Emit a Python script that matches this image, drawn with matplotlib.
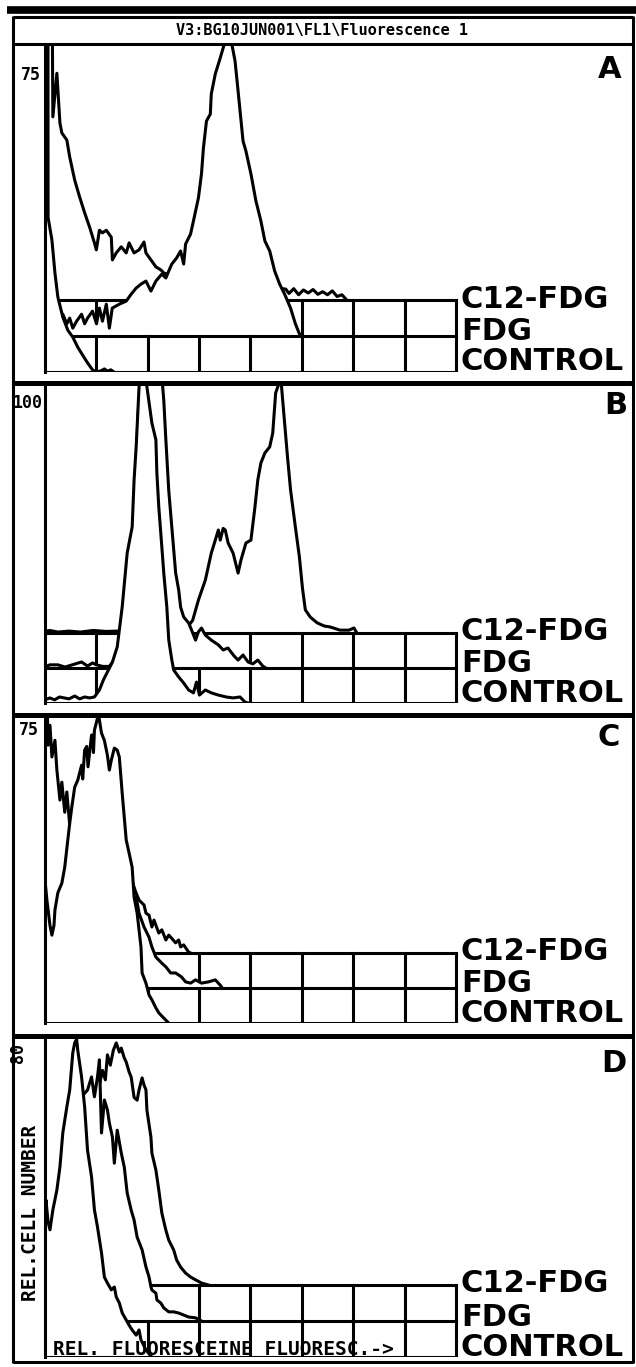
import matplotlib
matplotlib.use("Agg")
import matplotlib.pyplot as plt
from matplotlib.lines import Line2D

# Texto do painel
TITLE = r"V3:BG10JUN001\FL1\Fluorescence 1"
SERIES = ["C12-FDG", "FDG", "CONTROL"]
PANEL_LETTERS = ["A", "B", "C", "D"]
Y_MAX = [75, 100, 75, 80]
Y_MAX_LABELS = ["75", "100", "75", "80"]
GRID_CHANNELS = [32, 64, 96, 128, 160, 192, 224, 256]
Y_LABEL = "REL.CELL NUMBER"
X_LABEL = "REL. FLUORESCEINE FLUORESC.->"

# Histogramas (canal 0-256, contagem)
A_C12_CH = [0, 1.5, 2, 4.3, 4.9, 7.4, 9.3, 10.5, 13.6, 15.4, 18.5, 21.6, 24.7, 27.8, 30.8, 32, 33.9,
            35.8, 38.2, 41.3, 42, 44.4, 47.5, 50.6, 52.4, 55.5, 58.6, 61.7, 62.9, 66, 69.1, 72.2, 74,
            85, 100, 120, 140, 150, 152, 155, 158, 161, 164, 167, 170, 173, 176, 179, 182, 185, 188]
A_C12_N = [0, 0, 90, 80, 42, 52, 40.6, 38.3, 36.7, 32.8, 27.5, 23.6, 20, 16.7, 13.1, 11.5, 16,
           15.4, 16, 14.4, 9.2, 10.8, 12.2, 10.8, 13.1, 10.8, 11.5, 13.3, 10.8, 9.2, 7.6, 6.9, 6.2,
           5, 4, 3.5, 3, 2.5, 1.5, 2.6, 1.2, 2.3, 1.6, 2.4, 1.3, 1.9, 1.2, 2.1, 0.8, 1.2, 0]
A_FDG_CH = [0, 2, 5, 8, 9.3, 11.1, 13.6, 15.4, 17.3, 19.7, 22.8, 24.7, 26.5, 29.6, 32.1, 33.9, 35.8,
            38.2, 40.1, 41.9, 46.3, 50.6, 53.7, 56.8, 59.8, 62.9, 66, 69.1, 72.8, 75.3, 77.1, 79, 82,
            84.5, 86.4, 87.6, 90.7, 92.5, 95.6, 97.5, 98.7, 100.6, 103, 103.6, 106.1, 109.2, 112.3,
            114, 116, 118.4, 120.3, 123.4, 125.2, 128.3, 131.4, 134.5, 137, 140, 143.1, 146.2,
            149.3, 153, 156, 158.5, 160.4]
A_FDG_N = [0, 20, 15, 8, 3.4, 5, 2.8, 4.1, 1.8, 3.4, 5, 2.8, 4.1, 5.7, 2.8, 6.4, 3.4,
           7.3, 1.8, 6.4, 7.3, 8, 9.6, 11, 11.9, 12.6, 10.3, 12.6, 14.2, 13.3, 14.9, 16.5, 17.9,
           19.5, 16.5, 21.1, 23.4, 26.4, 31.7, 37.2, 43.1, 49.3, 50.9, 55.5, 60.1, 63.8, 67.7,
           70, 67.7, 63.1, 56.2, 44.7, 42.4, 37.2, 31, 26.4, 21.8, 19.5, 14.9, 11.9,
           9.6, 6.4, 2.8, 0.5, 0]
A_CTRL_CH = [0, 1.5, 1.9, 4.3, 6.2, 8.0, 11.1, 14.2, 17.3, 20.4, 23.4, 26.5, 29.6, 32, 35, 37, 39,
             41, 43]
A_CTRL_N = [95, 95, 35.5, 30.3, 22.7, 17.2, 12.6, 9.6, 8.0, 5.7, 3.9, 2.1, 0.5, 0, 0.3, 0.7, 0.2,
            0.5, 0]

B_C12_CH = [0, 3, 8, 15, 22, 30, 38, 45, 55, 65, 75, 85, 89, 92, 95.6, 99.9, 103.6, 106.1, 108,
            109.2, 111, 112.3, 114.1, 117.2, 120.3, 122.1, 125.2, 128.3, 130.8, 132.6, 134.5, 137,
            140, 141.9, 143.7, 145, 146.2, 147.4, 149.3, 151.1, 153, 156, 158.5, 160.4, 162.2,
            165.3, 169.6, 174, 177.7, 183.8, 189.4, 192.5, 194.3]
B_C12_N = [0.5, 0.8, 0.3, 0.6, 0.3, 0.8, 0.5, 0.6, 1, 1.5, 2, 1.5, 2, 4, 10.4, 16.7, 25.2, 29.3,
           32.5, 29.3, 33, 32.5, 28.4, 25.2, 18.9, 23, 28.4, 29.3, 39.7, 48.3, 53.6, 56.8, 58.7,
           63.1, 75.7, 77.6, 80, 77.6, 66.2, 55.5, 45.1, 33.4, 24, 14.2, 7.3, 5, 3.2, 2.2, 1.9,
           0.9, 0.9, 1.6, 0]
B_FDG_CH = [0, 3, 8, 12.5, 17, 22.8, 26.5, 29.6, 32, 36, 40, 44, 46, 48, 51, 54, 56, 58, 60, 66,
            72.8, 74, 75.3, 77.1, 79, 81.4, 83.3, 84.5, 86.4, 89.5, 91.3, 93.8, 95.6, 97.5, 99.9,
            103.6, 108, 111, 114, 117.8, 120.3, 123.4, 126.5, 129.5, 132.6, 135.7, 137.6]
B_FDG_N = [0.3, 1, 1, 0.3, 1, 1.9, 0.6, 1.6, 1, 0.5, 0.5, 3, 7, 14, 28, 38, 55, 80, 95, 110,
           92, 84.5, 72, 56, 44.5, 30, 24.6, 19.2, 16.1, 14.2, 12, 8.8, 11.4, 12.6, 10.4,
           8.8, 7.3, 5.7, 6.3, 3.8, 2.5, 4.1, 1.9, 1.3, 2.5, 0.6, 0]
B_CTRL_CH = [0, 3, 6, 9, 15, 18.5, 21.6, 24.7, 27.8, 30.8, 33.9, 36.4, 38.9, 42, 45, 48.1, 51.2,
             54.3, 55.5, 56.8, 58.6, 61, 63.5, 66.6, 69.1, 69.7, 70.9, 72.8, 74, 75.9, 77.1, 79,
             80.2, 83.3, 86.4, 89.5, 92.5, 94.4, 96.2, 99.9, 103.6, 108, 112.9, 117.2, 121.5,
             124.6, 126.5]
B_CTRL_N = [1, 1.6, 1, 1.9, 1.3, 2.2, 1.3, 1.9, 1.6, 1.9, 4.1, 7.3, 9.8, 12.9, 17.7, 30.3, 47.3,
            55.5, 70.3, 80.8, 99.7, 105, 99.7, 88.3, 83, 72.6, 61.8, 49.2, 41, 30.3, 19.9, 13.6,
            10.4, 8.2, 6.3, 4.1, 3.2, 6.6, 2.5, 4.1, 3.2, 2.5, 1.9, 1.6, 1.9, 0.3, 0]

C_C12_CH = [0, 1.2, 1.9, 3.1, 4.3, 6.2, 7.4, 9.3, 10.5, 12.3, 13.6, 15.4, 17.3, 20, 25, 30, 35, 40,
            45, 50, 54, 56.5, 58.6, 61.7, 62.9, 64.8, 66.6, 67.9, 70.9, 72.8, 75.3, 77.1, 78.3,
            81.4, 83.3, 84.5, 86.4, 89.5, 90.7]
C_C12_N = [70, 65, 51.1, 56, 48.2, 52.3, 45, 37.6, 42, 34.6, 39.6, 31.4, 32.7, 33, 38, 42, 45, 42,
           36, 26, 18, 15, 13, 11.8, 9.8, 9.3, 6.4, 8.1, 4.9, 5.7, 3.2, 4.4, 3.9, 2.5, 3.2, 1.5,
           2, 0.2, 0]
C_FDG_CH = [0, 4, 10, 15, 20, 30, 40, 48, 52, 55, 56.8, 58.6, 61.7, 64.8, 66.6, 69.1, 72.8, 75.3,
            78.3, 81.4, 85.1, 87.6, 90.7, 93.8, 97.5, 101.8, 106.1, 109.2, 110.4]
C_FDG_N = [10, 12, 22, 35, 45, 55, 50, 40, 30, 22, 22.4, 18.4, 15, 12.5, 10.1, 7.6, 6.1, 5.2,
           3.7, 3.7, 2.7, 1.5, 1.2, 2, 1.2, 1.5, 2, 0.7, 0]
C_CTRL_CH = [0, 1.2, 3.1, 4.3, 5.6, 6.2, 8, 10.5, 12.3, 14.2, 15.4, 16.7, 18.5, 20.4, 22.8, 23.5,
             24.7, 26, 26.8, 29, 29.6, 30.2, 30.8, 32.1, 33.3, 35.2, 37, 38.9, 40.1, 41.3, 43.2, 45,
             46.3, 48.1, 50.6, 52.4, 54.3, 55.5, 57.4, 59.8, 60.5, 62.9, 64.8, 66.6, 69.1, 70.9,
             72.8, 75.3, 77.1]
C_CTRL_N = [35.1, 30.2, 24, 21.6, 24, 27.8, 32, 34.4, 38.3, 45, 49.1, 53.1, 58, 59.7, 63.4, 60,
            67.1, 68, 63, 70.8, 70.8, 66.5, 72, 74, 76, 71.3, 69.5, 65.8, 62.2, 64.6, 67.6, 67.1,
            65.4, 56.5, 45, 41.8, 38.3, 31, 27, 18.7, 12.3, 9.8, 6.9, 5.7, 3.7, 2.5,
            1.7, 0.7, 0]

D_C12_CH = [0, 10, 20, 26, 30, 33.9, 35.8, 37.6, 38.9, 40.7, 42.6, 44.4, 46.3, 47.5, 49.4, 50.6,
            52.4, 53.7, 55.5, 57.4, 58.6, 60.5, 61.7, 62.9, 63.5, 66, 66.6, 69.1, 70.9, 72.8, 75.3,
            77.1, 80.2, 82, 84.5, 87.6, 90.7, 93.8, 97.5, 101.8]
D_C12_N = [3, 15, 35, 45, 44, 50.3, 54, 51.6, 57.9, 55.3, 59.1, 60.9, 58.6, 59.6, 57.1, 56.1,
           53.6, 52.3, 47.2, 46.5, 49.1, 52.1, 50.3, 49.1, 44, 37.2, 33.2, 28.9, 23.9, 18.1, 13.8,
           11.3, 8.8, 6.3, 4.5, 3, 2, 1.3, 0.5, 0]
D_FDG_CH = [0, 5, 10, 15, 20, 24, 26.5, 29, 30.8, 32.7, 33.9, 35.2, 37, 38.9, 40.1, 42, 43.2, 45,
            47.5, 49.4, 51.2, 53.7, 55.5, 57.4, 60.5, 62.9, 64.8, 66, 66.6, 69.1, 69.7, 72.2, 74,
            77.1, 80.2, 83.3, 86.4, 89.5, 93.8, 97.5]
D_FDG_N = [5, 15, 30, 45, 55, 57, 58.1, 61.4, 56.4, 61.4, 65.7, 47.3, 55.6, 53.1, 49.8, 46.3,
           39.7, 48, 42.3, 38.7, 32.2, 27.9, 25.4, 21.1, 17.9, 13.6, 11.1, 8.6, 7.8, 7, 5.3, 4.5,
           3.3, 2.3, 2.3, 2, 1.5, 1, 0.8, 0]
D_CTRL_CH = [0, 0.6, 1.9, 3.1, 4.9, 7.4, 9.3, 11.1, 13.6, 15.4, 17.3, 18.5, 19.7, 20.4, 22.8, 24.7,
             26.5, 29, 30.8, 32.7, 35.2, 37, 38.9, 41.3, 43.2, 44.4, 46.3, 48.1, 50.6, 52.4, 54.3,
             56.8, 58.6, 59.8, 62.9, 64.8, 66.6]
D_CTRL_N = [30, 39.5, 34, 32, 37, 42, 47.8, 56.4, 62.9, 67.2, 76.5, 79, 80, 77.2, 70.4, 62.9, 52,
            45.3, 37, 32.7, 26.2, 20.1, 18.6, 16.9, 17.6, 15.1, 13.6, 11.1, 9.3, 8, 6.8, 5.5, 6.8,
            4.3, 1.8, 0.8, 0]

PANELS = [
    [(A_C12_CH, A_C12_N), (A_FDG_CH, A_FDG_N), (A_CTRL_CH, A_CTRL_N)],
    [(B_C12_CH, B_C12_N), (B_FDG_CH, B_FDG_N), (B_CTRL_CH, B_CTRL_N)],
    [(C_C12_CH, C_C12_N), (C_FDG_CH, C_FDG_N), (C_CTRL_CH, C_CTRL_N)],
    [(D_C12_CH, D_C12_N), (D_FDG_CH, D_FDG_N), (D_CTRL_CH, D_CTRL_N)],
]

# Layout em pixels da imagem original
W, H, DPI = 636, 1367, 100
AX_LEFT, FRAME_LEFT, FRAME_RIGHT = 45, 13, 633
PX_PER_CH = 1.605
PANEL_TOP = [45, 386, 718, 1039]
PANEL_BASE = [372, 703, 1023, 1357]
ROW_PX = [36, 35, 35, 36]
LABEL_DY = [1, 4, 10]
LETTER_XY = [(610, 70), (616, 405), (609, 737), (614, 1064)]
YMAX_XY = [(31, 75), (28, 403), (29, 730), (18, 1053)]
LW = 2.2
MONO = "DejaVu Sans Mono"

fig = plt.figure(figsize=(W / DPI, H / DPI), dpi=DPI)
fig.patch.set_facecolor("white")


def hline(y, x0, x1, lw):
    fig.add_artist(Line2D([x0 / W, x1 / W], [1 - y / H, 1 - y / H], color="k", lw=lw,
                          solid_capstyle="butt"))


def vline(x, y0, y1, lw):
    fig.add_artist(Line2D([x / W, x / W], [1 - y0 / H, 1 - y1 / H], color="k", lw=lw,
                          solid_capstyle="butt"))


# moldura
hline(10, 7, 636, 5.5)
hline(17, FRAME_LEFT, FRAME_RIGHT, LW)
hline(44, FRAME_LEFT, FRAME_RIGHT, LW)
for y in [383, 715, 1036]:
    hline(y, FRAME_LEFT, FRAME_RIGHT, 3.6)
hline(1362, FRAME_LEFT, FRAME_RIGHT, LW)
vline(FRAME_LEFT, 16, 1363, LW)
vline(FRAME_RIGHT, 16, 1363, LW)
fig.text(322 / W, 1 - 30 / H, TITLE, ha="center", va="center", family=MONO,
         weight="bold", size=11)

for i, curves in enumerate(PANELS):
    top, base = PANEL_TOP[i], PANEL_BASE[i]
    ax = fig.add_axes([AX_LEFT / W, 1 - base / H, (FRAME_RIGHT - AX_LEFT) / W, (base - top) / H])
    ax.set_xlim(0, (FRAME_RIGHT - AX_LEFT) / PX_PER_CH)
    ax.set_ylim(0, Y_MAX[i])
    ax.patch.set_alpha(0)
    for s in ["top", "right", "bottom"]:
        ax.spines[s].set_visible(False)
    ax.spines["left"].set_linewidth(LW)
    ax.spines["left"].set_zorder(20)
    ax.set_xticks([])
    ax.set_yticks([])
    cnt_per_px = Y_MAX[i] / (base - top)
    row = ROW_PX[i] * cnt_per_px

    # de tras pra frente: C12-FDG, FDG, CONTROL
    for depth, (ch, n) in enumerate(curves):
        off = (2 - depth) * row
        z = 2 + depth * 3
        top_y = [off + v for v in n]
        ax.fill_between(ch, off, top_y, color="white", lw=0, zorder=z)
        ax.plot([0, 256], [off, off], color="k", lw=LW, zorder=z + 1, solid_capstyle="projecting")
        if depth < 2:
            for c in GRID_CHANNELS:
                ax.plot([c, c], [off - row, off], color="k", lw=LW, zorder=z + 1,
                        solid_capstyle="projecting")
        ax.plot(ch, top_y, color="k", lw=LW, zorder=z + 2)
        ax.text(256 + 5 / PX_PER_CH, off + LABEL_DY[depth] * cnt_per_px, SERIES[depth],
                ha="left", va="center", weight="bold", size=22, zorder=z + 2)

    lx, ly = LETTER_XY[i]
    fig.text(lx / W, 1 - ly / H, PANEL_LETTERS[i], ha="center", va="center",
             weight="bold", size=22)
    mx, my = YMAX_XY[i]
    fig.text(mx / W, 1 - my / H, Y_MAX_LABELS[i], ha="center", va="center", family=MONO,
             weight="bold", size=12, rotation=90 if i == 3 else 0)

    if i == 3:
        # texto por cima do preenchimento, abaixo do contorno do CONTROL
        ax.text(5, 0.6, X_LABEL, ha="left", va="baseline", family=MONO, weight="bold",
                size=14, zorder=9.5)

fig.text(31 / W, 1 - 1213 / H, Y_LABEL, ha="center", va="center", family=MONO,
         weight="bold", size=14, rotation=90)

fig.savefig("out.png", dpi=DPI, facecolor="white")
